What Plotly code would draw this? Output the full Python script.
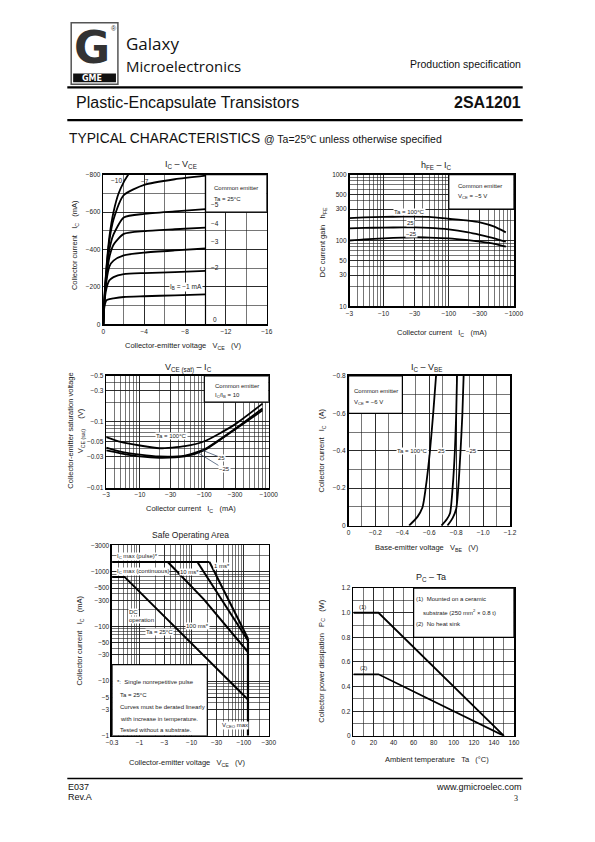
import math
import plotly.graph_objects as go

# ======================= DATA =======================
# Chart 1: IC - VCE  (magnitudes: V, mA)
vce_out = [0, 0.1, 0.3, 0.6, 1, 2, 4, 7, 10]
ic_ib_1 = [0, 90, 128, 135, 139, 146, 150, 155, 160]
ic_ib_2 = [0, 110, 190, 235, 252, 268, 274, 279, 285]
ic_ib_3 = [0, 120, 230, 310, 340, 368, 383, 395, 405]
ic_ib_4 = [0, 125, 250, 360, 425, 483, 498, 508, 517]
ic_ib_5 = [0, 130, 265, 400, 480, 571, 590, 603, 615]
ic_ib_7 = [0, 135, 290, 450, 560, 690, 745, 775, 794]
vce_ib_10 = [0, 0.1, 0.3, 0.6, 1, 1.5, 2, 2.45]
ic_ib_10 = [0, 140, 300, 470, 600, 700, 760, 800]

# Chart 2: hFE - IC  (IC magnitude mA)
ic_hfe = [3, 5, 10, 20, 30, 50, 100, 200, 300, 500, 750]
hfe_100 = [219, 224, 228, 230, 230, 228, 214, 200, 188, 162, 133]
hfe_25 = [153, 155, 157, 158, 158, 156, 148, 133, 122, 108, 96]
hfe_m25 = [100, 104, 108, 111, 112, 111, 108, 101, 96, 89, 81]

# Chart 3: VCE(sat) - IC  (magnitudes: mA, V)
ic_sat = [3, 5, 10, 20, 50, 100, 300, 800]
vsat_100 = [0.059, 0.050, 0.044, 0.040, 0.043, 0.051, 0.092, 0.19]
vsat_25 = [0.041, 0.0355, 0.032, 0.030, 0.031, 0.0385, 0.079, 0.16]
vsat_m25 = [0.037, 0.0335, 0.030, 0.0286, 0.030, 0.0373, 0.077, 0.15]

# Chart 4: IC - VBE  (magnitudes: V, A)
vbe_100 = [0.45, 0.513, 0.55, 0.573, 0.605, 0.629, 0.65]
ic_vbe_100 = [0, 0.048, 0.10, 0.20, 0.40, 0.60, 0.80]
vbe_25 = [0.69, 0.73, 0.754, 0.773, 0.79, 0.80, 0.806]
ic_vbe_25 = [0, 0.034, 0.066, 0.20, 0.40, 0.60, 0.80]
vbe_m25 = [0.735, 0.773, 0.80, 0.815, 0.832, 0.846, 0.855]
ic_vbe_m25 = [0, 0.04, 0.09, 0.20, 0.40, 0.60, 0.80]

# Chart 5: Safe operating area  (magnitudes: V, mA)
soa_pulse_v = [0.3, 22]
soa_pulse_i = [1500, 1500]
soa_1ms_v = [22, 120]
soa_1ms_i = [1500, 60]
soa_10ms_v = [12.9, 120]
soa_10ms_i = [1500, 55]
soa_100ms_v = [3.5, 17, 120]
soa_100ms_i = [1500, 315, 34]
soa_dc_v = [0.3, 0.52, 120]
soa_dc_i = [800, 800, 4.6]
soa_vceo_v = [120, 120]
soa_vceo_i = [60, 1]

# Chart 6: PC - Ta
ta = [0, 25, 150]
pc_ceramic = [1.0, 1.0, 0.0]
pc_noheatsink = [0.5, 0.5, 0.0]

# Tick labels
c1_x_vals = [0, 4, 8, 12, 16]
c1_x_text = ["0", "−4", "−8", "−12", "−16"]
c1_y_vals = [0, 200, 400, 600, 800]
c1_y_text = ["0", "−200", "−400", "−600", "−800"]
c2_x_vals = [3, 10, 30, 100, 300, 1000]
c2_x_text = ["−3", "−10", "−30", "−100", "−300", "−1000"]
c2_y_vals = [10, 30, 50, 100, 300, 500, 1000]
c2_y_text = ["10", "30", "50", "100", "300", "500", "1000"]
c3_y_vals = [0.01, 0.03, 0.05, 0.1, 0.3, 0.5]
c3_y_text = ["−0.01", "−0.03", "−0.05", "−0.1", "−0.3", "−0.5"]
c4_x_vals = [0, 0.2, 0.4, 0.6, 0.8, 1.0, 1.2]
c4_x_text = ["0", "−0.2", "−0.4", "−0.6", "−0.8", "−1.0", "−1.2"]
c4_y_vals = [0, 0.2, 0.4, 0.6, 0.8]
c4_y_text = ["0", "−0.2", "−0.4", "−0.6", "−0.8"]
c5_x_vals = [0.3, 1, 3, 10, 30, 100, 300]
c5_x_text = ["−0.3", "−1", "−3", "−10", "−30", "−100", "−300"]
c5_y_vals = [1, 3, 5, 10, 30, 50, 100, 300, 500, 1000, 3000]
c5_y_text = ["−1", "−3", "−5", "−10", "−30", "−50", "−100", "−300", "−500", "−1000", "−3000"]
c6_x_vals = [0, 20, 40, 60, 80, 100, 120, 140, 160]
c6_x_text = [str(v) for v in c6_x_vals]
c6_y_vals = [0, 0.2, 0.4, 0.6, 0.8, 1.0, 1.2]
c6_y_text = ["0", "0.2", "0.4", "0.6", "0.8", "1.0", "1.2"]

# ======================= LAYOUT HELPERS =======================
W, H = 595, 842
FONT = "Liberation Sans, Arial, sans-serif"
TXT = "#222"


def px(x):
    return x / W


def py(y):
    return 1 - y / H


def log_minor(lo_exp, hi_exp):
    vals = []
    for e in range(lo_exp, hi_exp + 1):
        for d in range(1, 10):
            vals.append(d * 10 ** e)
    return vals


def make_axis(xpix, ypix, is_x, anchor, rng, vals, text, minor, log=False):
    dom = [px(xpix[0]), px(xpix[1])] if is_x else [py(ypix[1]), py(ypix[0])]
    d = dict(domain=dom, anchor=anchor, range=rng, type="log" if log else "linear",
             tickmode="array", tickvals=vals, ticktext=text,
             showgrid=True, gridcolor="#1a1a1a", gridwidth=0.8,
             showline=True, linecolor="black", linewidth=1.6, mirror=True,
             ticks="", zeroline=False, fixedrange=True,
             tickfont=dict(size=6.5, color=TXT, family=FONT))
    if log:
        d["minor"] = dict(tickmode="array", tickvals=minor, showgrid=True,
                          gridcolor="#1a1a1a", gridwidth=0.6, ticks="")
    else:
        d["minor"] = dict(tickmode="linear", tick0=0, dtick=minor, showgrid=True,
                          gridcolor="#1a1a1a", gridwidth=0.6, ticks="")
    return d


fig = go.Figure()
annotations = []
shapes = []


def ann(text, x, y, size=7, xref="paper", yref="paper", xanchor="center",
        yanchor="middle", angle=0, bg=None, color=TXT, family=FONT, **kw):
    a = dict(text=text, x=x, y=y, xref=xref, yref=yref, xanchor=xanchor,
             yanchor=yanchor, showarrow=False, textangle=angle,
             font=dict(size=size, color=color, family=family), borderpad=0)
    if bg:
        a["bgcolor"] = bg
    a.update(kw)
    annotations.append(a)


def pann(text, xp, yp, **kw):
    ann(text, px(xp), py(yp), **kw)


def line(xs, ys, xa, ya, width=1.8):
    fig.add_trace(go.Scatter(x=xs, y=ys, xaxis=xa, yaxis=ya, mode="lines",
                             line=dict(color="black", width=width, shape="spline", smoothing=0.6),
                             hoverinfo="skip", showlegend=False))


def straight(xs, ys, xa, ya, width=1.8):
    fig.add_trace(go.Scatter(x=xs, y=ys, xaxis=xa, yaxis=ya, mode="lines",
                             line=dict(color="black", width=width),
                             hoverinfo="skip", showlegend=False))


def box(xr, yr, x0, x1, y0, y1):
    shapes.append(dict(type="rect", xref=xr, yref=yr, x0=x0, x1=x1, y0=y0, y1=y1,
                       fillcolor="white", line=dict(color="black", width=1.2), layer="between"))


# ======================= AXES =======================
layout_axes = {}
layout_axes["xaxis"] = make_axis((100, 268), None, True, "y", [0, 16], c1_x_vals, c1_x_text, 2)
layout_axes["yaxis"] = make_axis(None, (172, 323), False, "x", [0, 800], c1_y_vals, c1_y_text, 100)
layout_axes["xaxis2"] = make_axis((353, 522), None, True, "y2", [math.log10(3), 3], c2_x_vals, c2_x_text, log_minor(0, 3), log=True)
layout_axes["yaxis2"] = make_axis(None, (172, 305), False, "x2", [1, 3], c2_y_vals, c2_y_text, log_minor(1, 3), log=True)
layout_axes["xaxis3"] = make_axis((103, 270), None, True, "y3", [math.log10(3), 3], c2_x_vals, c2_x_text, log_minor(0, 3), log=True)
layout_axes["yaxis3"] = make_axis(None, (375, 488), False, "x3", [-2, math.log10(0.5)], c3_y_vals, c3_y_text, log_minor(-2, -1), log=True)
layout_axes["xaxis4"] = make_axis((352, 518), None, True, "y4", [0, 1.2], c4_x_vals, c4_x_text, 0.1)
layout_axes["yaxis4"] = make_axis(None, (375, 526), False, "x4", [0, 0.8], c4_y_vals, c4_y_text, 0.1)
layout_axes["xaxis5"] = make_axis((109, 270), None, True, "y5", [math.log10(0.3), math.log10(300)], c5_x_vals, c5_x_text, log_minor(-1, 2), log=True)
layout_axes["yaxis5"] = make_axis(None, (546, 738), False, "x5", [0, math.log10(3000)], c5_y_vals, c5_y_text, log_minor(0, 3), log=True)
layout_axes["xaxis6"] = make_axis((357, 522), None, True, "y6", [0, 160], c6_x_vals, c6_x_text, 10)
layout_axes["yaxis6"] = make_axis(None, (589, 738), False, "x6", [0, 1.2], c6_y_vals, c6_y_text, 0.1)

L = math.log10

# ======================= CHART 1 =======================
for ic in [ic_ib_1, ic_ib_2, ic_ib_3, ic_ib_4, ic_ib_5, ic_ib_7]:
    line(vce_out, ic, "x", "y")
line(vce_ib_10, ic_ib_10, "x", "y")
box("x", "y", 10, 16, 600, 800)
shapes.append(dict(type="line", xref="x", yref="y", x0=10, x1=10, y0=0, y1=800,
                   line=dict(color="black", width=1.2), layer="between"))
ann("Common emitter", 10.7, 726, size=6, xref="x", yref="y", xanchor="left")
ann("Ta = 25°C", 10.7, 668, size=6, xref="x", yref="y", xanchor="left")
ann("−10", 1.3, 770, size=6.5, xref="x", yref="y")
ann("−7", 4.1, 765, size=6.5, xref="x", yref="y")
ann("−5", 10.9, 640, size=6.5, xref="x", yref="y")
ann("−4", 10.9, 540, size=6.5, xref="x", yref="y")
ann("−3", 10.9, 443, size=6.5, xref="x", yref="y")
ann("−2", 10.9, 305, size=6.5, xref="x", yref="y")
ann("I<sub>B</sub> = −1 mA", 8.1, 200, size=6.5, xref="x", yref="y", bg="white")
ann("0", 10.9, 28, size=6.5, xref="x", yref="y")
pann("I<sub>C</sub> – V<sub>CE</sub>", 180, 162, size=9)
pann("Collector current   I<sub>C</sub>   (mA)", 71, 243, size=7.5, angle=-90)
pann("Collector-emitter voltage   V<sub>CE</sub>   (V)", 182, 345, size=7.5)

# ======================= CHART 2 =======================
line(ic_hfe, hfe_100, "x2", "y2")
line(ic_hfe, hfe_25, "x2", "y2")
line(ic_hfe, hfe_m25, "x2", "y2")
box("x2", "y2", 100, 1000, 300, 1000)
ann("Common emitter", L(135), L(660), size=6, xref="x2", yref="y2", xanchor="left")
ann("V<sub>CE</sub> = −5 V", L(135), L(470), size=6, xref="x2", yref="y2", xanchor="left")
ann("Ta = 100°C", L(25), L(272), size=6, xref="x2", yref="y2", bg="white")
ann("25", L(26), L(184), size=6, xref="x2", yref="y2", bg="white")
ann("−25", L(27), L(126), size=6, xref="x2", yref="y2", bg="white")
pann("h<sub>FE</sub> – I<sub>C</sub>", 442, 163, size=9)
pann("DC current gain   h<sub>FE</sub>", 326, 240, size=7.5, angle=-90)
pann("Collector current   I<sub>C</sub>   (mA)", 448, 332, size=7.5)

# ======================= CHART 3 =======================
line(ic_sat, vsat_100, "x3", "y3")
line(ic_sat, vsat_25, "x3", "y3")
line(ic_sat, vsat_m25, "x3", "y3")
box("x3", "y3", 100, 1000, 0.2, 0.5)
ann("Common emitter", L(140), L(0.354), size=6, xref="x3", yref="y3", xanchor="left")
ann("I<sub>C</sub>/I<sub>B</sub> = 10", L(140), L(0.256), size=6, xref="x3", yref="y3", xanchor="left")
ann("Ta = 100°C", L(31), L(0.061), size=6, xref="x3", yref="y3", bg="white")
ann("25", L(92), L(0.0375), size=6, xref="x3", yref="y3", bg="white",
    showarrow=True, arrowhead=0, arrowwidth=0.7, ax=20, ay=8, standoff=0)
ann("−25", L(80), L(0.034), size=6, xref="x3", yref="y3", bg="white",
    showarrow=True, arrowhead=0, arrowwidth=0.7, ax=26, ay=16, standoff=0)
pann("V<sub>CE (sat)</sub> – I<sub>C</sub>", 188, 367, size=9)
pann("Collector-emitter saturation voltage", 66, 430, size=7.5, angle=-90)
pann("V<sub>CE (sat)</sub>     (V)", 78, 430, size=7.5, angle=-90)
pann("Collector current   I<sub>C</sub>   (mA)", 190, 509, size=7.5)

# ======================= CHART 4 =======================
line(vbe_100, ic_vbe_100, "x4", "y4")
line(vbe_25, ic_vbe_25, "x4", "y4")
line(vbe_m25, ic_vbe_m25, "x4", "y4")
box("x4", "y4", 0, 0.4, 0.6, 0.8)
ann("Common emitter", 0.03, 0.72, size=6, xref="x4", yref="y4", xanchor="left")
ann("V<sub>CE</sub> = −6 V", 0.03, 0.658, size=6, xref="x4", yref="y4", xanchor="left")
ann("Ta = 100°C", 0.477, 0.4, size=6, xref="x4", yref="y4", bg="white")
ann("25", 0.694, 0.4, size=6, xref="x4", yref="y4", bg="white")
ann("−25", 0.911, 0.4, size=6, xref="x4", yref="y4", bg="white")
pann("I<sub>C</sub> – V<sub>BE</sub>", 433, 367, size=9)
pann("Collector current   I<sub>C</sub>   (A)", 325, 450, size=7.5, angle=-90)
pann("Base-emitter voltage   V<sub>BE</sub>   (V)", 433, 549, size=7.5)

# ======================= CHART 5 =======================
box("x5", "y5", 0.3, 20, 1, 20)
straight(soa_pulse_v, soa_pulse_i, "x5", "y5", 2)
straight(soa_1ms_v, soa_1ms_i, "x5", "y5", 2)
straight(soa_10ms_v, soa_10ms_i, "x5", "y5", 2)
straight(soa_100ms_v, soa_100ms_i, "x5", "y5", 2)
straight(soa_dc_v, soa_dc_i, "x5", "y5", 2)
straight(soa_vceo_v, soa_vceo_i, "x5", "y5", 2.2)
ann("I<sub>C</sub> max (pulse)*", L(0.36), L(1900), size=6, xref="x5", yref="y5", xanchor="left", bg="white")
ann("I<sub>C</sub> max (continuous)", L(0.36), L(1000), size=6, xref="x5", yref="y5", xanchor="left", bg="white")
ann("10 ms*", L(9.1), L(1000), size=6, xref="x5", yref="y5", bg="white")
ann("1 ms*", L(38), L(1264), size=6, xref="x5", yref="y5", bg="white")
ann("DC", L(0.6), L(180), size=6, xref="x5", yref="y5", xanchor="left", bg="white")
ann("operation", L(0.6), L(128), size=6, xref="x5", yref="y5", xanchor="left", bg="white")
ann("Ta = 25°C", L(2.46), L(80), size=6, xref="x5", yref="y5", bg="white")
ann("100 ms*", L(12.9), L(101), size=6, xref="x5", yref="y5", bg="white")
ann("V<sub>CEO</sub> max", L(67), L(1.55), size=6, xref="x5", yref="y5", bg="white")
for txt, xx, yy in [("*:  Single nonrepetitive pulse", 113, 684), ("Ta = 25°C", 116, 697),
                    ("Curves must be derated linearly", 116, 709),
                    ("with increase in temperature.", 116, 721),
                    ("Tested without a substrate.", 116, 732)]:
    pann(txt, xx, yy, size=6, xanchor="left")
pann("Safe Operating Area", 190, 535, size=8.5)
pann("Collector current   I<sub>C</sub>   (mA)", 76, 642, size=7.5, angle=-90)
pann("Collector-emitter voltage   V<sub>CE</sub>   (V)", 187, 765, size=7.5)

# ======================= CHART 6 =======================
straight(ta, pc_ceramic, "x6", "y6", 1.8)
straight(ta, pc_noheatsink, "x6", "y6", 1.8)
box("x6", "y6", 60, 160, 0.8, 1.2)
ann("(1)  Mounted on a ceramic", 61.5, 1.114, size=6, xref="x6", yref="y6", xanchor="left")
ann("substrate (250 mm<sup>2</sup> × 0.8 t)", 68, 1.006, size=6, xref="x6", yref="y6", xanchor="left")
ann("(2)  No heat sink", 61.5, 0.906, size=6, xref="x6", yref="y6", xanchor="left")
ann("(1)", 9, 1.05, size=6, xref="x6", yref="y6")
ann("(2)", 9.7, 0.553, size=6, xref="x6", yref="y6")
pann("P<sub>C</sub> – Ta", 437, 578, size=9)
pann("Collector power dissipation   P<sub>C</sub>   (W)", 325, 662, size=7.5, angle=-90)
pann("Ambient temperature   Ta   (°C)", 443, 762, size=7.5)

# ======================= HEADER / FOOTER =======================
def prect(x0, y0, x1, y1, **kw):
    shapes.append(dict(type="rect", xref="paper", yref="paper", x0=px(x0), x1=px(x1),
                       y0=py(y1), y1=py(y0), **kw))


def pline(x0, y0, x1, y1, w):
    shapes.append(dict(type="line", xref="paper", yref="paper", x0=px(x0), x1=px(x1),
                       y0=py(y0), y1=py(y1), line=dict(color="black", width=w)))


prect(67, 19, 115, 81, line=dict(color="#555", width=1.5), fillcolor="white")
prect(69, 70, 113, 79, line=dict(width=0), fillcolor="#111")
pann("<b>G</b>", 88, 44, size=44, color="#333", family="DejaVu Sans, sans-serif")
pann("<b>GME</b>", 88, 75, size=8, color="white", family="DejaVu Sans, sans-serif")
pann("®", 111, 25, size=7, color="#333")
pann("Galaxy", 122, 40, size=17, xanchor="left", color="#111", family="Open Sans, sans-serif")
pann("Microelectronics", 122, 63, size=15, xanchor="left", color="#111", family="Open Sans, sans-serif")
pann("Production specification", 530, 61, size=10.5, xanchor="right", color="#111")
pline(63, 84, 531, 84, 2.2)
pann("Plastic-Encapsulate Transistors", 71, 99, size=16, xanchor="left", color="#111")
pann("<b>2SA1201</b>", 530, 99, size=16, xanchor="right", color="#111")
pline(63, 117, 531, 117, 2.2)
pann("TYPICAL CHARACTERISTICS <span style='font-size:10.5px'>@ Ta=25℃ unless otherwise specified</span>",
     64, 136, size=13.8, xanchor="left", color="#111")

pline(63, 781, 531, 781, 1.5)
pann("E037", 63, 790, size=9, xanchor="left", color="#111")
pann("Rev.A", 63, 800, size=9, xanchor="left", color="#111")
pann("www.gmicroelec.com", 531, 790, size=9, xanchor="right", color="#111")
pann("3", 527, 801, size=8, xanchor="right", color="#111", family="Liberation Serif, serif")

fig.update_layout(width=W, height=H, margin=dict(l=0, r=0, t=0, b=0),
                  paper_bgcolor="white", plot_bgcolor="white", showlegend=False,
                  annotations=annotations, shapes=shapes, **layout_axes)
fig.write_html("out.html", config={"displayModeBar": False, "staticPlot": True},
               post_script="document.body.style.margin='0';document.body.style.padding='0';")
